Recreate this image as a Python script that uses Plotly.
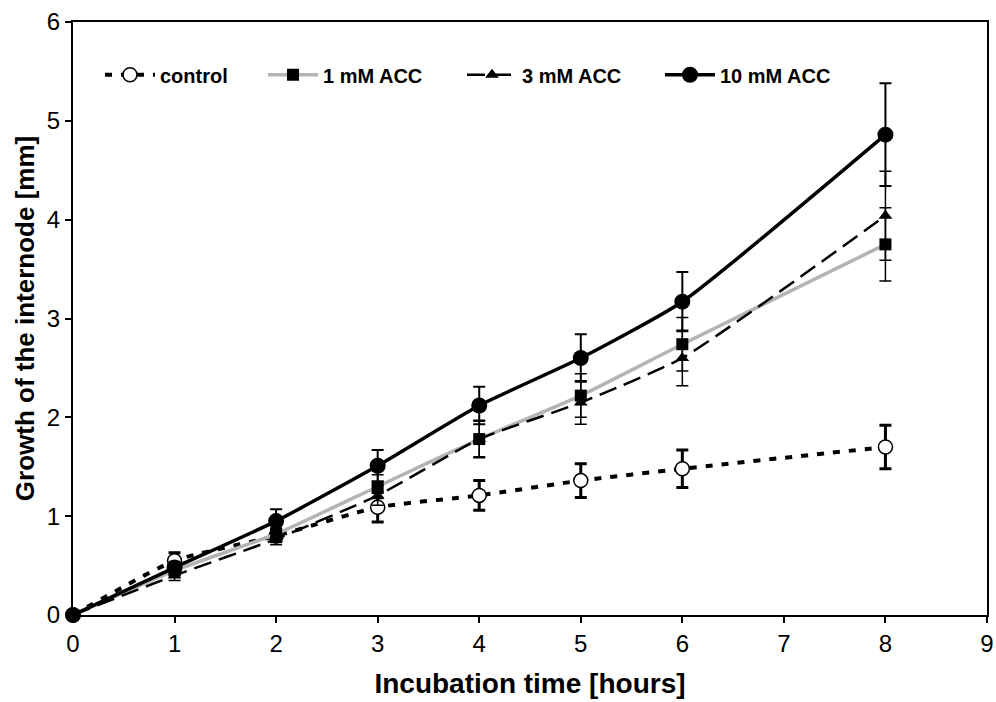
import plotly.graph_objects as go

hours = [0, 1, 2, 3, 4, 5, 6, 8]

control = [0, 0.55, 0.80, 1.09, 1.21, 1.36, 1.48, 1.70]
control_err = [0, 0.08, 0.06, 0.15, 0.15, 0.17, 0.19, 0.22]

acc1 = [0, 0.45, 0.82, 1.30, 1.78, 2.22, 2.74, 3.75]
acc1_err = [0, 0.05, 0.06, 0.12, 0.19, 0.22, 0.27, 0.37]

acc3 = [0, 0.40, 0.77, 1.21, 1.78, 2.15, 2.60, 4.04]
acc3_err = [0, 0.05, 0.06, 0.10, 0.18, 0.22, 0.28, 0.45]

acc10 = [0, 0.48, 0.95, 1.51, 2.12, 2.60, 3.17, 4.86]
acc10_err = [0, 0.06, 0.12, 0.16, 0.19, 0.24, 0.30, 0.52]

FONT = "Liberation Sans, Arial, sans-serif"

fig = go.Figure()

fig.add_trace(go.Scatter(
    x=hours, y=control, name="control", mode="lines+markers", legend="legend",
    line=dict(color="black", width=4, dash="7px,9px", shape="spline", smoothing=0.5),
    marker=dict(symbol="circle", size=14, color="white", line=dict(color="black", width=1.5)),
    error_y=dict(type="data", array=control_err, color="black", thickness=3, width=6),
    cliponaxis=False,
))
fig.add_trace(go.Scatter(
    x=hours, y=acc1, name="1 mM ACC", mode="lines+markers", legend="legend2",
    line=dict(color="#b4b4b4", width=3.5, shape="spline", smoothing=0.5),
    marker=dict(symbol="square", size=12, color="black"),
    error_y=dict(type="data", array=acc1_err, color="black", thickness=1.5, width=6),
    cliponaxis=False,
))
fig.add_trace(go.Scatter(
    x=hours, y=acc3, name="3 mM ACC", mode="lines+markers", legend="legend3",
    line=dict(color="black", width=2.5, dash="18px,8px", shape="spline", smoothing=0.5),
    marker=dict(symbol="triangle-up", size=12, color="black"),
    error_y=dict(type="data", array=acc3_err, color="black", thickness=1.5, width=6),
    cliponaxis=False,
))
fig.add_trace(go.Scatter(
    x=hours, y=acc10, name="10 mM ACC", mode="lines+markers", legend="legend4",
    line=dict(color="black", width=3.5, shape="spline", smoothing=0.5),
    marker=dict(symbol="circle", size=16, color="black"),
    error_y=dict(type="data", array=acc10_err, color="black", thickness=2, width=6),
    cliponaxis=False,
))

L, R, T, B = 73, 9, 22, 87
PW = 996 - L - R


def leg(px):
    return dict(
        orientation="h", x=(px - L) / PW, y=0.911, xanchor="left", yanchor="middle",
        font=dict(family=FONT, size=20, weight="bold"),
        bgcolor="rgba(0,0,0,0)", itemwidth=50,
    )


fig.update_layout(
    width=996, height=702,
    margin=dict(l=L, r=R, t=T, b=B),
    paper_bgcolor="white", plot_bgcolor="white",
    font=dict(family=FONT, color="black", size=24),
    legend=leg(100), legend2=leg(263), legend3=leg(462), legend4=leg(660),
    showlegend=True,
)

fig.update_xaxes(
    range=[0, 9], dtick=1, tick0=0, automargin=False,
    showline=True, linecolor="black", linewidth=2, mirror=True,
    ticks="outside", ticklen=6, tickcolor="black", tickwidth=1.5,
    showgrid=False, zeroline=False,
    tickfont=dict(size=24),
    title=dict(text="Incubation time [hours]", font=dict(size=28, weight="bold"), standoff=18),
)
fig.update_yaxes(
    range=[0, 6], dtick=1, tick0=0, automargin=False,
    showline=True, linecolor="black", linewidth=2, mirror=True,
    ticks="outside", ticklen=6, tickcolor="black", tickwidth=1.5,
    showgrid=False, zeroline=False,
    tickfont=dict(size=24),
    title=dict(text="Growth of the internode [mm]", font=dict(size=26, weight="bold"), standoff=5),
)

fig.write_html("out.html", post_script="document.body.style.margin='0';",
               config={"displayModeBar": False})
